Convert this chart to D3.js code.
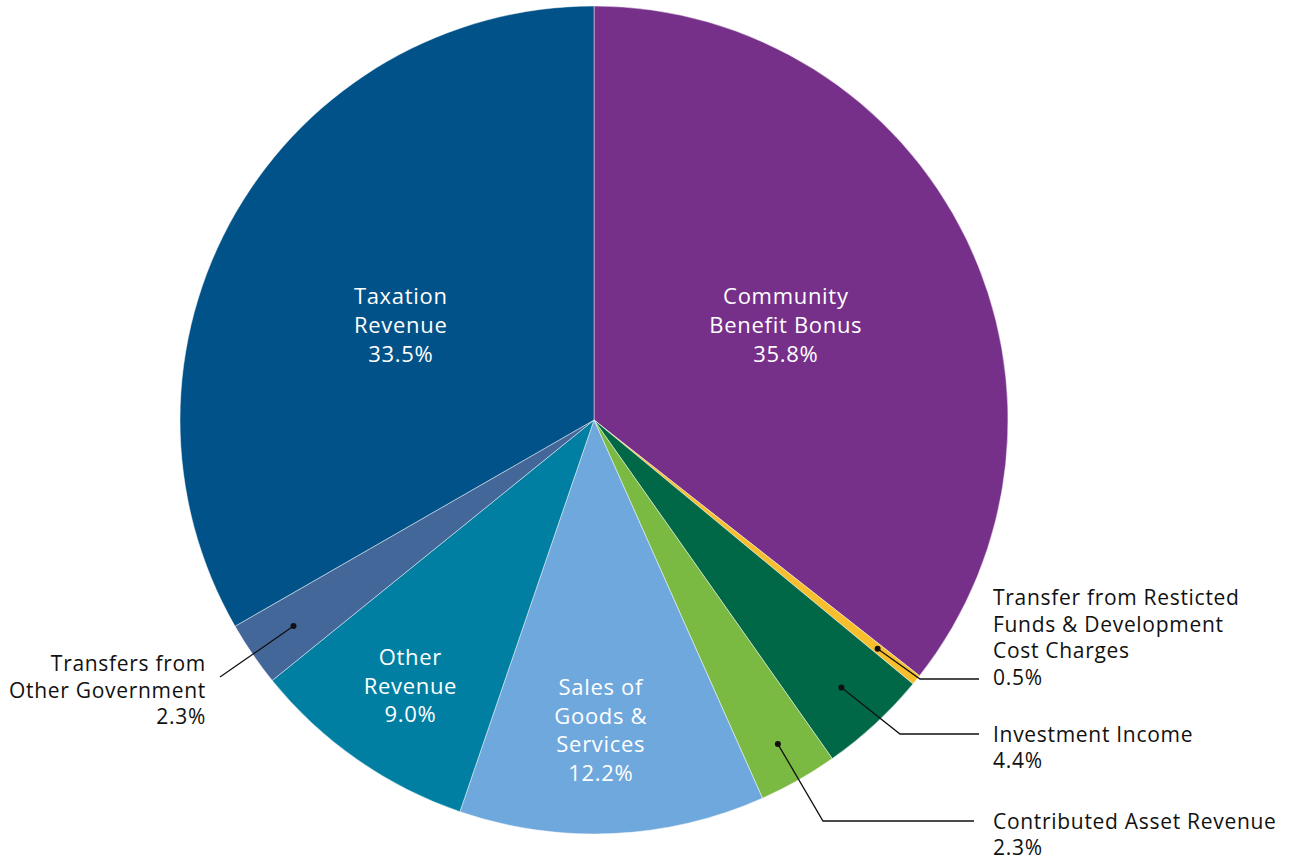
<!DOCTYPE html>
<html>
<head>
<meta charset="utf-8">
<script src="https://cdn.jsdelivr.net/npm/d3@7/dist/d3.min.js"></script>
<style>
  html, body { margin: 0; padding: 0; background: #fff; }
  svg { display: block; font-family: "Open Sans", "Noto Sans", sans-serif; }
</style>
</head>
<body>
<svg id="chart" width="1301" height="859"></svg>
<script>
// ---- data ----
const categories = [
  "Community Benefit Bonus",
  "Transfer from Resticted Funds & Development Cost Charges",
  "Investment Income",
  "Contributed Asset Revenue",
  "Sales of Goods & Services",
  "Other Revenue",
  "Transfers from Other Government",
  "Taxation Revenue"
];
// slice sizes as drawn in the picture (share of the circle, %)
const values = [35.6, 0.4, 4.24, 3.09, 11.92, 8.92, 2.53, 33.3];
// percentages as printed on the chart
const pctLabels = ["35.8%", "0.5%", "4.4%", "2.3%", "12.2%", "9.0%", "2.3%", "33.5%"];
const colors = ["#76308a", "#f7bf2e", "#006847", "#7aba42", "#6fa8dc", "#007fa3", "#44679a", "#015288"];
const labelLines = [
  ["Community", "Benefit Bonus"],
  ["Transfer from Resticted", "Funds & Development", "Cost Charges"],
  ["Investment Income"],
  ["Contributed Asset Revenue"],
  ["Sales of", "Goods &", "Services"],
  ["Other", "Revenue"],
  ["Transfers from", "Other Government"],
  ["Taxation", "Revenue"]
];

// ---- layout (code-side) ----
const cx = 594, cy = 420, R = 414;
const inFs = 22, outFs = 21, ls = 0.7;
const inLineH = 28.8, outLineH = 26.7;
const inside = {
  0: { rf: 0.517, da: -0.4 },
  4: { rf: 0.749, da: 1.3 },
  5: { rf: 0.78, da: -0.3 },
  7: { rf: 0.52, da: -3.9 }
};
const outside = {
  1: { side: "right", rf: 0.88, labelY: 679, elbowX: 920, endX: 979, textX: 993, anchorLast: true },
  2: { side: "right", rf: 0.88, labelY: 734, elbowX: 900, endX: 979, textX: 993 },
  3: { side: "right", rf: 0.90, labelY: 821, elbowX: 823, endX: 974, textX: 993 },
  6: { side: "left", rf: 0.88, endPt: [220, 677], textX: 206, firstBaseline: 671 }
};

const svg = d3.select("#chart");
const g = svg.append("g").attr("transform", `translate(${cx},${cy})`);

const data = categories.map((c, i) => ({ name: c, value: values[i], pct: pctLabels[i], color: colors[i], lines: labelLines[i], idx: i }));
const pie = d3.pie().value(d => d.value).sort(null).startAngle(0).endAngle(2 * Math.PI);
const arcs = pie(data);
const arc = d3.arc().innerRadius(0).outerRadius(R);

g.selectAll("path.slice")
  .data(arcs)
  .join("path")
  .attr("class", "slice")
  .attr("d", arc)
  .attr("fill", d => d.data.color)
  .attr("stroke", "rgba(255,255,255,0.65)")
  .attr("stroke-width", 0.7);

function pos(a, rf, daDeg) {
  const ang = (a.startAngle + a.endAngle) / 2 + (daDeg || 0) * Math.PI / 180;
  return [Math.sin(ang) * R * rf, -Math.cos(ang) * R * rf];
}

// inside labels
arcs.forEach(a => {
  const i = a.data.idx;
  const spec = inside[i];
  if (!spec) return;
  const [x, y] = pos(a, spec.rf, spec.da);
  const lines = a.data.lines.concat([a.data.pct]);
  const n = lines.length;
  const t = g.append("text")
    .attr("text-anchor", "middle")
    .attr("fill", "#fff")
    .attr("font-size", inFs)
    .attr("letter-spacing", ls);
  lines.forEach((ln, k) => {
    t.append("tspan")
      .attr("x", x)
      .attr("y", y + (k - (n - 1) / 2) * inLineH + inFs * 0.36)
      .text(ln);
  });
});

// outside labels with leader lines
const root = svg.append("g");
arcs.forEach(a => {
  const i = a.data.idx;
  const spec = outside[i];
  if (!spec) return;
  const [px, py] = pos(a, spec.rf, 0);
  const dx = cx + px, dy = cy + py;
  const lines = a.data.lines.concat([a.data.pct]);
  const n = lines.length;
  if (spec.side === "right") {
    root.append("polyline")
      .attr("points", [[dx, dy], [spec.elbowX, spec.labelY], [spec.endX, spec.labelY]].map(p => p.join(",")).join(" "))
      .attr("fill", "none").attr("stroke", "#111").attr("stroke-width", 1.3);
    const t = root.append("text").attr("font-size", outFs).attr("fill", "#111").attr("letter-spacing", ls);
    const first = spec.anchorLast ? spec.labelY + 6 - (n - 1) * outLineH : spec.labelY + 7.5;
    lines.forEach((ln, k) => {
      t.append("tspan").attr("x", spec.textX).attr("y", first + k * outLineH).text(ln);
    });
  } else {
    root.append("line")
      .attr("x1", dx).attr("y1", dy)
      .attr("x2", spec.endPt[0]).attr("y2", spec.endPt[1])
      .attr("stroke", "#111").attr("stroke-width", 1.3);
    const t = root.append("text").attr("font-size", outFs).attr("fill", "#111")
      .attr("text-anchor", "end").attr("letter-spacing", ls);
    lines.forEach((ln, k) => {
      t.append("tspan").attr("x", spec.textX).attr("y", spec.firstBaseline + k * outLineH).text(ln);
    });
  }
  root.append("circle").attr("cx", dx).attr("cy", dy).attr("r", 3).attr("fill", "#111");
});
</script>
</body>
</html>
